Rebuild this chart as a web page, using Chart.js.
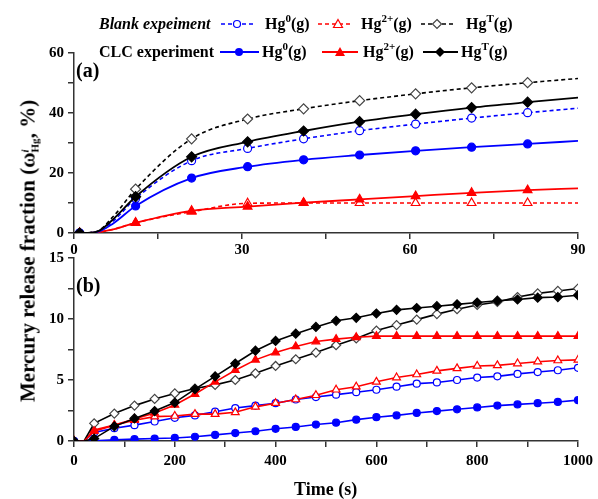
<!DOCTYPE html>
<html>
<head>
<meta charset="utf-8">
<script src="https://cdn.jsdelivr.net/npm/chart.js@4"></script>
<style>
  body { margin: 0; background: #fff; }
  #wrap { position: relative; width: 598px; height: 499px; overflow: hidden; background: #fff;
    font-family: 'Liberation Serif', 'Times New Roman', serif; font-weight: bold; color: #000; }
  canvas { position: absolute; left: 0; }
  .t { position: absolute; white-space: nowrap; line-height: 1; }
  .leg { font-size: 16px; }
  .leg sup { font-size: 11px; vertical-align: 7px; line-height: 0; }
  #ytitle { position: absolute; left: 29px; top: 251px; font-size: 21px; white-space: nowrap; line-height: 1;
    transform: translate(-50%, -50%) rotate(-90deg); }
  .stack { display: inline-block; vertical-align: -4px; font-size: 11px; line-height: 0.9; text-align: left; }
  .stack span { display: block; }
</style>
</head>
<body>
<div id="wrap">
  <canvas id="chartA" width="598" height="262" style="top:0"></canvas>
  <canvas id="chartB" width="598" height="259" style="top:240px"></canvas>

  <svg class="t" style="left:0;top:0" width="598" height="70">
    <line x1="221" y1="24" x2="253" y2="24" stroke="#0000ff" stroke-width="1.5" stroke-dasharray="4,3"/>
    <circle cx="237" cy="24" r="3.5" fill="#fff" stroke="#0000ff" stroke-width="1.2"/>
    <line x1="318" y1="24" x2="353" y2="24" stroke="#ff0000" stroke-width="1.5" stroke-dasharray="4,3"/>
    <polygon points="338,19.5 342.5,27.5 333.5,27.5" fill="#fff" stroke="#ff0000" stroke-width="1.2"/>
    <line x1="421" y1="24" x2="454" y2="24" stroke="#000" stroke-width="1.5" stroke-dasharray="4,3"/>
    <polygon points="437,19.5 441.5,24 437,28.5 432.5,24" fill="#fff" stroke="#444" stroke-width="1.2"/>
    <line x1="220" y1="52" x2="259" y2="52" stroke="#0000ff" stroke-width="2"/>
    <circle cx="239" cy="52" r="4" fill="#0000ff"/>
    <line x1="322" y1="52" x2="358" y2="52" stroke="#ff0000" stroke-width="2"/>
    <polygon points="340,47 345,56 335,56" fill="#ff0000"/>
    <line x1="423" y1="52" x2="458" y2="52" stroke="#000" stroke-width="2"/>
    <polygon points="440,47 445,52 440,57 435,52" fill="#000"/>
  </svg>

  <span class="t leg" style="left:99px;top:16px;font-style:italic">Blank expeiment</span>
  <span class="t leg" style="left:265px;top:16px">Hg<sup>0</sup>(g)</span>
  <span class="t leg" style="left:361px;top:16px">Hg<sup>2+</sup>(g)</span>
  <span class="t leg" style="left:466px;top:16px">Hg<sup>T</sup>(g)</span>
  <span class="t leg" style="left:99px;top:44px">CLC experiment</span>
  <span class="t leg" style="left:262px;top:44px">Hg<sup>0</sup>(g)</span>
  <span class="t leg" style="left:363px;top:44px">Hg<sup>2+</sup>(g)</span>
  <span class="t leg" style="left:461px;top:44px">Hg<sup>T</sup>(g)</span>

  <span class="t" style="left:76px;top:60px;font-size:20px">(a)</span>
  <span class="t" style="left:76px;top:275px;font-size:20px">(b)</span>
  <span class="t" style="left:294px;top:480px;font-size:18px">Time (s)</span>
  <div id="ytitle">Mercury release fraction (ω<span class="stack"><span style="font-style:italic">i</span><span>Hg</span></span>, %)</div>
</div>

<script>
  // panel (a): first 90 s
  const timeA = [0, 1, 4, 7, 11, 21, 31, 41, 51, 61, 71, 81, 90];
  const markA = [1, 11, 21, 31, 41, 51, 61, 71, 81];
  const blankHg0A = [0, 0, 0.4, 4.0, 11.5, 24.1, 28.2, 31.4, 34.1, 36.3, 38.3, 40.1, 41.6];
  const blankHg2A = [0, 0, 0.2, 1.2, 3.4, 7.1, 9.9, 10.0, 10.0, 10.0, 10.0, 10.0, 10.0];
  const blankHgTA = [0, 0, 0.5, 5.5, 14.6, 31.4, 38.0, 41.4, 44.1, 46.4, 48.4, 50.1, 51.5];
  const clcHg0A = [0, 0, 0.3, 3.2, 9.0, 18.3, 22.1, 24.4, 26.0, 27.4, 28.6, 29.7, 30.7];
  const clcHg2A = [0, 0, 0.2, 1.2, 3.4, 7.4, 8.8, 10.1, 11.2, 12.3, 13.4, 14.3, 14.9];
  const clcHgTA = [0, 0, 0.4, 4.6, 12.1, 25.4, 30.4, 34.0, 37.1, 39.6, 41.8, 43.6, 45.1];

  // panel (b): 0-1000 s
  const timeB = [0, 20, 40, 80, 120, 160, 200, 240, 280, 320, 360, 400, 440, 480,
    520, 560, 600, 640, 680, 720, 760, 800, 840, 880, 920, 960, 1000];
  const blankHg0B = [0, 0, 0.7, 1.05, 1.3, 1.6, 1.9, 2.1, 2.4, 2.7, 2.9, 3.1, 3.4, 3.6,
    3.8, 4.0, 4.2, 4.45, 4.7, 4.8, 5.0, 5.2, 5.3, 5.5, 5.65, 5.8, 6.0];
  const blankHg2B = [0, 0, 0.9, 1.3, 1.7, 2.0, 2.05, 2.2, 2.2, 2.35, 2.8, 3.1, 3.4, 3.75,
    4.2, 4.45, 4.85, 5.2, 5.45, 5.75, 5.95, 6.15, 6.2, 6.35, 6.5, 6.6, 6.65];
  const blankHgTB = [0, 0, 1.45, 2.25, 2.9, 3.45, 3.9, 4.3, 4.6, 5.0, 5.55, 6.15, 6.7, 7.25,
    7.85, 8.4, 9.05, 9.5, 9.95, 10.4, 10.8, 11.15, 11.4, 11.8, 12.1, 12.3, 12.5];
  const clcHg0B = [0, 0, 0.02, 0.1, 0.15, 0.2, 0.25, 0.35, 0.5, 0.65, 0.8, 1.0, 1.15, 1.35,
    1.5, 1.75, 1.95, 2.1, 2.3, 2.45, 2.6, 2.75, 2.9, 3.0, 3.1, 3.2, 3.35];
  const clcHg2B = [0, 0, 0.8, 1.3, 1.8, 2.3, 2.95, 3.85, 4.85, 5.8, 6.65, 7.25, 7.75, 8.15,
    8.35, 8.5, 8.6, 8.6, 8.6, 8.6, 8.6, 8.6, 8.6, 8.6, 8.6, 8.6, 8.6];
  const clcHgTB = [0, 0, 0.2, 1.2, 1.85, 2.45, 3.15, 4.25, 5.3, 6.35, 7.4, 8.2, 8.8, 9.35,
    9.85, 10.1, 10.45, 10.75, 10.9, 11.05, 11.2, 11.35, 11.5, 11.6, 11.75, 11.8, 11.95];
  const markB = timeB.filter((t) => t % 40 === 0);

  const BLUE = '#0000ff';
  const RED = '#ff0000';
  const BLACK = '#000000';

  Chart.defaults.font.family = "'Liberation Serif', 'Times New Roman', serif";
  Chart.defaults.font.weight = 'bold';
  Chart.defaults.font.size = 15;
  Chart.defaults.color = '#000';

  function series(times, values, marks, opt) {
    return {
      data: times.map((t, i) => ({ x: t, y: values[i] })),
      borderColor: opt.color,
      borderWidth: opt.width || 1.6,
      borderDash: opt.dash || [],
      pointStyle: opt.style,
      pointBackgroundColor: opt.open ? '#fff' : opt.color,
      pointBorderColor: opt.open && opt.style === 'rectRot' ? '#444' : opt.color,
      pointBorderWidth: 1.2,
      pointRadius: (ctx) => (marks.includes(ctx.raw.x) ? opt.r : 0),
      pointHoverRadius: 0,
      tension: opt.tension || 0,
      cubicInterpolationMode: opt.tension ? 'monotone' : 'default',
    };
  }

  function axis(min, max, step, labelEvery, fit, pad) {
    return {
      type: 'linear',
      min,
      max,
      ticks: {
        stepSize: step,
        padding: pad,
        autoSkip: false,
        maxRotation: 0,
        callback: (v) => (v % labelEvery === 0 ? v : ''),
      },
      grid: { drawOnChartArea: false, tickLength: 6, color: '#333', lineWidth: 1.5 },
      border: { color: '#333', width: 1.5 },
      afterFit: fit,
    };
  }

  function makeChart(id, datasets, xAxis, yAxis, padTop) {
    return new Chart(document.getElementById(id), {
      type: 'line',
      data: { datasets },
      options: {
        responsive: false,
        animation: false,
        devicePixelRatio: 1,
        layout: { padding: { top: padTop, right: 20, left: 0, bottom: 0 } },
        plugins: { legend: { display: false }, tooltip: { enabled: false } },
        scales: { x: xAxis, y: yAxis },
      },
    });
  }

  makeChart('chartA', [
    series(timeA, clcHgTA, markA, { color: BLACK, style: 'rectRot', r: 5, tension: 0.4, width: 1.8 }),
    series(timeA, clcHg0A, markA, { color: BLUE, style: 'circle', r: 4, tension: 0.4, width: 1.8 }),
    series(timeA, clcHg2A, markA, { color: RED, style: 'triangle', r: 5, tension: 0.4, width: 1.8 }),
    series(timeA, blankHgTA, markA, { color: BLACK, style: 'rectRot', r: 5, open: true, dash: [4, 3], tension: 0.4 }),
    series(timeA, blankHg0A, markA, { color: BLUE, style: 'circle', r: 4, open: true, dash: [4, 3], tension: 0.4 }),
    series(timeA, blankHg2A, markA, { color: RED, style: 'triangle', r: 5, open: true, dash: [4, 3], tension: 0.4 }),
  ],
  axis(0, 90, 15, 30, (s) => { s.height = 29; }, 2),
  axis(0, 60, 10, 20, (s) => { s.width = 74; }, 4),
  53);

  makeChart('chartB', [
    series(timeB, clcHgTB, markB, { color: BLACK, style: 'rectRot', r: 4.5 }),
    series(timeB, clcHg2B, markB, { color: RED, style: 'triangle', r: 4.5 }),
    series(timeB, clcHg0B, markB, { color: BLUE, style: 'circle', r: 3.5 }),
    series(timeB, blankHgTB, markB, { color: BLACK, style: 'rectRot', r: 4.5, open: true }),
    series(timeB, blankHg2B, markB, { color: RED, style: 'triangle', r: 4.5, open: true }),
    series(timeB, blankHg0B, markB, { color: BLUE, style: 'circle', r: 3.5, open: true }),
  ],
  axis(0, 1000, 100, 200, (s) => { s.height = 58; }, 5),
  axis(0, 15, 2.5, 5, (s) => { s.width = 74; }, 4),
  18);
</script>
</body>
</html>
